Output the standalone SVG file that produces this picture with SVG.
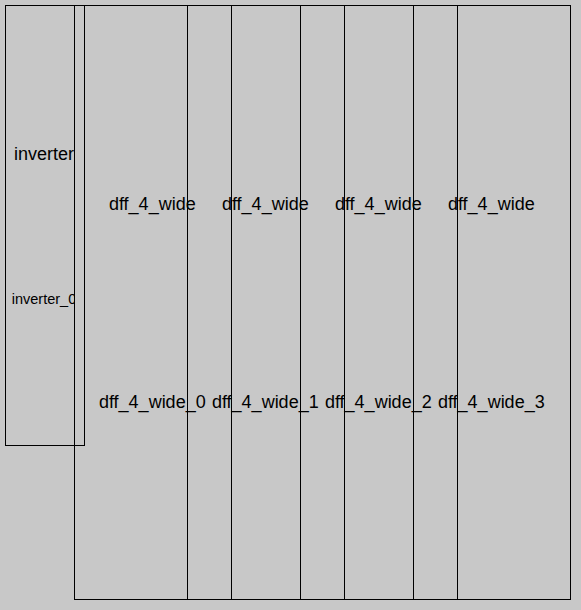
<svg xmlns="http://www.w3.org/2000/svg" width="581" height="610" viewBox="0 0 581 610">
<style>
.box{fill:none;stroke:#000;stroke-width:1}
.lbl{font-family:"Liberation Sans",Arial,sans-serif;font-size:18px;fill:#000;text-anchor:middle}
.sub{font-family:"Liberation Sans",Arial,sans-serif;font-size:14.5px;fill:#000;text-anchor:middle}
</style>
<defs>
<clipPath id="invclip"><rect x="0" y="0" width="74" height="610"/></clipPath>
</defs>
<rect x="0" y="0" width="581" height="610" fill="#c8c8c8"/>
<g id="inverter_0">
<rect class="box" x="5.5" y="5.5" width="79" height="440"/>
<g clip-path="url(#invclip)">
<text class="lbl" x="44" y="159.5">inverter</text>
<text class="sub" x="44" y="304">inverter_0</text>
</g>
</g>
<g id="dff_4_wide_0">
<rect class="box" x="74.5" y="5.5" width="157" height="594"/>
<text class="lbl" x="152.3" y="210">dff_4_wide</text>
<text class="lbl" x="152.3" y="408">dff_4_wide_0</text>
</g>
<g id="dff_4_wide_1">
<rect class="box" x="187.5" y="5.5" width="157" height="594"/>
<text class="lbl" x="265.3" y="210">dff_4_wide</text>
<text class="lbl" x="265.3" y="408">dff_4_wide_1</text>
</g>
<g id="dff_4_wide_2">
<rect class="box" x="300.5" y="5.5" width="157" height="594"/>
<text class="lbl" x="378.3" y="210">dff_4_wide</text>
<text class="lbl" x="378.3" y="408">dff_4_wide_2</text>
</g>
<g id="dff_4_wide_3">
<rect class="box" x="413.5" y="5.5" width="157" height="594"/>
<text class="lbl" x="491.3" y="210">dff_4_wide</text>
<text class="lbl" x="491.3" y="408">dff_4_wide_3</text>
</g>
<g id="connectors"/>
</svg>
